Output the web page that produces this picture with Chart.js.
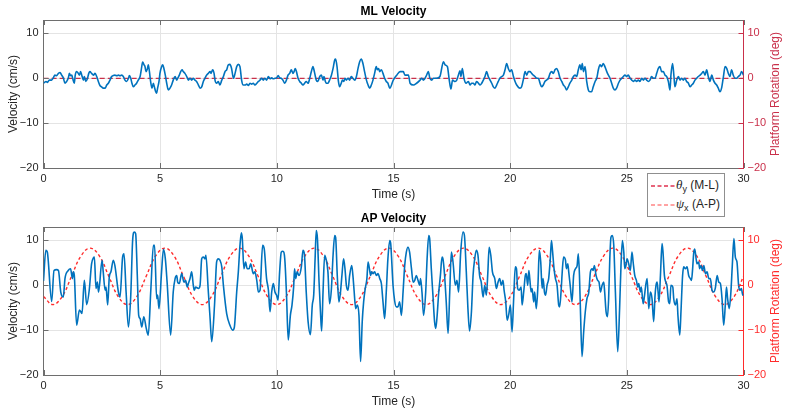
<!DOCTYPE html>
<html>
<head>
<meta charset="utf-8">
<script src="https://cdn.jsdelivr.net/npm/chart.js@4.4.1/dist/chart.umd.min.js"></script>
<style>
  body { margin: 0; background: #fff; }
  #wrap { position: relative; width: 787px; height: 414px; overflow: hidden; }
  .panel { position: absolute; left: 0; width: 787px; height: 207px; }
  #legend {
    position: absolute; left: 647px; top: 173px; width: 78px; height: 44px;
    box-sizing: border-box; border: 1px solid #8f8f8f; background: #fff;
  }
  #legend svg { position: absolute; left: 0; top: 0; }
  #legend .entry {
    position: absolute; left: 28px; font: 12px "Liberation Sans", Arial, sans-serif;
    color: #262626; line-height: 14px; white-space: nowrap;
  }
  #legend .greek { font-family: "Liberation Serif", "DejaVu Serif", serif; font-style: italic; font-size: 13px; }
  #legend sub { font-size: 9px; vertical-align: -3px; line-height: 0; }
</style>
</head>
<body>
<div id="wrap">
  <div class="panel" style="top:0"><canvas id="mlChart"></canvas></div>
  <div class="panel" style="top:207px"><canvas id="apChart"></canvas></div>
  <div id="legend">
    <svg width="30" height="42">
      <line x1="3" y1="12" x2="27" y2="12" stroke="#E0324F" stroke-width="1.3" stroke-dasharray="4 2.5"/>
      <line x1="3" y1="31" x2="27" y2="31" stroke="#FF8585" stroke-width="1.3" stroke-dasharray="4 2.5"/>
    </svg>
    <div class="entry" style="top:4px"><span class="greek">θ</span><sub>y</sub> (M-L)</div>
    <div class="entry" style="top:23px"><span class="greek">ψ</span><sub>x</sub> (A-P)</div>
  </div>
</div>
<script>
// ML velocity trace (cm/s)
const mlTime = [
  0.00,0.11,0.17,0.25,0.35,0.42,0.49,0.56,0.64,0.71,
  0.78,0.85,0.92,0.99,1.06,1.11,1.16,1.21,1.25,1.32,
  1.36,1.42,1.49,1.54,1.59,1.64,1.71,1.75,1.81,1.88,
  1.94,1.99,2.06,2.14,2.21,2.28,2.35,2.42,2.49,2.56,
  2.64,2.71,2.78,2.85,2.92,2.99,3.06,3.14,3.21,3.28,
  3.35,3.42,3.49,3.56,3.64,3.68,3.74,3.79,3.85,3.92,
  3.99,4.06,4.14,4.19,4.25,4.31,4.35,4.39,4.45,4.49,
  4.54,4.59,4.65,4.71,4.75,4.81,4.85,4.89,4.95,4.99,
  5.06,5.11,5.16,5.22,5.28,5.35,5.42,5.49,5.56,5.64,
  5.71,5.75,5.82,5.88,5.94,5.99,6.06,6.14,6.21,6.28,
  6.35,6.42,6.49,6.56,6.64,6.71,6.78,6.85,6.92,6.99,
  7.06,7.14,7.18,7.25,7.31,7.35,7.42,7.49,7.56,7.64,
  7.71,7.78,7.85,7.92,7.99,8.06,8.14,8.21,8.28,8.35,
  8.42,8.49,8.56,8.64,8.71,8.78,8.85,8.92,8.99,9.06,
  9.14,9.21,9.28,9.35,9.42,9.49,9.56,9.64,9.71,9.78,
  9.85,9.92,9.99,10.06,10.12,10.19,10.26,10.34,10.41,10.48,
  10.55,10.62,10.69,10.74,10.79,10.84,10.91,10.98,11.05,11.12,
  11.19,11.26,11.34,11.41,11.48,11.55,11.59,11.64,11.69,11.76,
  11.84,11.91,11.98,12.02,12.08,12.12,12.19,12.26,12.34,12.41,
  12.48,12.52,12.58,12.64,12.69,12.76,12.81,12.87,12.92,12.98,
  13.05,13.12,13.19,13.26,13.34,13.41,13.48,13.55,13.62,13.69,
  13.76,13.84,13.91,13.98,14.05,14.12,14.19,14.26,14.31,14.36,
  14.41,14.48,14.55,14.62,14.69,14.76,14.84,14.99,15.14,15.28,
  15.42,15.49,15.64,15.71,15.85,15.99,16.14,16.21,16.28,16.42,
  16.49,16.56,16.64,16.71,16.85,16.99,17.14,17.21,17.31,17.39,
  17.46,17.53,17.64,17.71,17.78,17.85,17.89,17.95,18.02,18.11,
  18.21,18.28,18.35,18.42,18.49,18.56,18.64,18.71,18.78,18.85,
  18.92,18.99,19.06,19.14,19.21,19.28,19.35,19.42,19.49,19.56,
  19.64,19.71,19.78,19.85,19.92,19.99,20.06,20.14,20.21,20.28,
  20.42,20.49,20.56,20.64,20.71,20.78,20.85,20.92,20.99,21.06,
  21.14,21.21,21.28,21.35,21.42,21.49,21.56,21.64,21.71,21.78,
  21.85,21.92,21.99,22.06,22.14,22.21,22.28,22.35,22.42,22.49,
  22.56,22.64,22.71,22.78,22.85,22.92,22.99,23.04,23.09,23.14,
  23.21,23.28,23.35,23.42,23.49,23.56,23.64,23.71,23.78,23.85,
  23.92,23.99,24.06,24.14,24.21,24.28,24.35,24.42,24.49,24.56,
  24.64,24.71,24.78,24.85,24.92,24.99,25.06,25.14,25.21,25.28,
  25.35,25.42,25.49,25.56,25.64,25.71,25.78,25.85,25.92,25.99,
  26.06,26.14,26.21,26.28,26.35,26.42,26.49,26.56,26.64,26.71,
  26.78,26.85,26.89,26.96,27.02,27.06,27.14,27.21,27.28,27.35,
  27.42,27.49,27.56,27.64,27.71,27.78,27.85,27.92,27.99,28.06,
  28.14,28.21,28.28,28.35,28.42,28.49,28.56,28.64,28.71,28.78,
  28.85,28.92,28.99,29.06,29.14,29.21,29.28,29.35,29.42,29.49,
  29.56,29.64,29.71,29.78,29.85,29.92,30.00
];
const mlVel = [
  -1.1,-0.7,-0.9,-0.4,-0.4,0.1,0.7,0.6,1.1,1.3,
  0.7,0.1,-1.1,-0.7,0.0,1.1,0.6,0.7,0.0,-1.1,
  0.7,1.5,1.1,0.7,1.5,0.7,-0.4,0.4,-0.7,-0.1,
  1.1,1.5,1.1,0.7,1.1,0.4,-0.7,-1.6,-1.9,-2.2,
  -2.2,-1.5,-1.1,-0.4,0.4,0.6,0.7,0.6,0.7,0.6,
  0.7,0.4,-0.4,-0.7,0.0,0.6,0.0,-1.1,-1.9,-1.5,
  -1.1,-0.4,0.4,1.9,3.6,3.0,2.6,1.5,2.1,3.0,
  1.5,-0.7,-2.2,-1.1,-1.9,-3.0,-3.3,-2.2,-0.7,1.1,
  2.6,3.0,2.2,0.7,-1.1,-2.6,-2.2,-1.5,-0.4,0.4,
  -0.4,0.0,0.7,1.5,1.9,1.5,1.1,0.4,-0.4,0.0,
  -0.4,0.0,-0.4,-0.7,-1.5,-2.2,-1.9,-0.7,0.0,0.7,
  1.1,1.5,1.1,1.9,1.1,-0.4,-1.1,-0.7,-1.5,-0.4,
  0.4,1.5,1.9,3.0,3.1,2.2,0.0,1.1,2.6,3.1,
  2.6,-0.4,-1.5,-1.5,-1.3,-1.6,-1.1,-1.3,-1.1,-1.5,
  -1.1,-0.7,-0.4,0.0,-0.4,0.0,-0.4,0.4,-0.1,0.1,
  -0.1,0.0,0.1,0.6,0.1,0.0,-0.4,-1.1,-0.4,0.7,
  1.1,1.9,1.1,1.5,2.2,1.5,0.0,-0.7,-1.1,-1.5,
  -1.1,-0.7,-1.1,0.0,1.5,2.6,1.9,0.7,-0.4,-0.7,
  0.4,0.7,-0.4,0.4,-0.7,-1.1,-1.1,-0.4,0.7,2.2,
  4.1,4.3,2.6,-0.7,-1.9,-1.1,-0.4,-0.7,0.0,-0.4,
  0.0,-0.4,0.4,0.0,-0.4,0.4,2.2,3.7,4.3,3.3,
  1.5,-0.4,-1.5,-2.2,-1.5,-0.4,1.1,2.6,1.9,2.2,
  1.5,1.9,1.1,0.0,-0.7,-1.1,-2.2,-0.4,0.7,1.5,
  1.5,0.7,0.7,-1.1,-1.5,-1.1,-0.4,0.0,-0.4,0.7,
  1.5,0.0,-0.4,0.0,0.0,0.4,3.7,3.0,2.6,-0.4,
  -2.4,-0.4,-0.7,-0.4,0.7,1.7,0.4,2.2,0.0,-1.1,
  -0.7,-1.5,-1.1,-1.1,-1.5,-0.7,-1.1,-1.5,-1.1,-0.4,
  0.4,1.5,0.4,-0.4,-1.1,-1.9,-2.2,-1.5,-0.7,0.0,
  0.4,0.7,1.9,3.3,2.2,1.5,1.9,0.4,-0.7,-1.5,
  -2.2,-1.9,-0.4,1.5,0.7,1.5,1.5,1.1,0.7,0.4,
  0.0,0.0,-1.1,-1.9,-1.5,-0.7,-0.4,0.0,1.1,1.5,
  1.1,1.9,2.2,1.5,0.0,-0.7,-1.5,-1.9,-2.6,-1.9,
  -1.1,-0.4,0.4,0.7,0.4,1.9,3.0,1.9,3.3,1.5,
  2.6,-0.7,-2.6,-3.0,-3.0,-1.9,-0.7,0.0,1.9,3.0,
  2.6,3.3,2.6,1.5,0.7,0.0,-1.1,-2.2,-2.6,-2.2,
  -1.1,-0.4,0.0,0.4,0.7,0.4,0.7,0.0,-0.4,-0.7,
  -0.4,-0.7,-0.4,-0.7,0.0,-0.4,0.0,-0.4,-0.7,-0.4,
  0.4,0.0,0.0,1.1,2.2,2.6,1.5,1.5,0.7,0.4,
  -0.7,-2.6,0.7,3.3,0.4,-1.9,-0.4,0.4,-0.4,0.0,
  -0.4,0.0,-0.7,-1.1,-1.9,-1.5,-1.1,-0.4,0.0,0.4,
  0.7,1.1,1.5,0.7,1.9,0.4,-0.7,0.7,-0.4,-1.1,
  -1.5,-2.2,-3.0,-2.2,0.4,2.6,2.2,1.1,0.4,1.9,
  0.7,0.0,0.0,0.4,0.7,1.5,0.7
];

// AP velocity trace (cm/s)
const apTime = [
  0.00,0.10,0.16,0.35,0.45,0.56,0.64,0.74,0.85,0.92,
  1.06,1.16,1.24,1.28,1.32,1.42,1.54,1.60,1.65,1.75,
  1.85,1.96,2.06,2.14,2.18,2.25,2.31,2.36,2.51,2.56,
  2.64,2.68,2.75,2.82,2.89,2.99,3.06,3.21,3.28,3.39,
  3.45,3.54,3.64,3.74,3.82,3.89,3.95,4.02,4.08,4.14,
  4.21,4.30,4.40,4.49,4.60,4.71,4.76,4.85,4.89,4.95,
  5.06,5.14,5.22,5.30,5.45,5.56,5.64,5.71,5.75,5.82,
  5.92,6.02,6.09,6.16,6.21,6.28,6.35,6.42,6.46,6.52,
  6.64,6.71,6.78,6.85,6.92,6.96,7.06,7.14,7.21,7.33,
  7.42,7.49,7.56,7.64,7.71,7.85,7.99,8.11,8.18,8.28,
  8.35,8.42,8.48,8.52,8.59,8.66,8.73,8.81,8.88,8.92,
  8.99,9.06,9.14,9.21,9.28,9.39,9.46,9.56,9.64,9.71,
  9.78,9.85,9.92,9.99,10.05,10.12,10.19,10.26,10.34,10.41,
  10.49,10.58,10.65,10.72,10.76,10.81,10.87,10.95,11.05,11.12,
  11.18,11.26,11.34,11.44,11.52,11.58,11.64,11.69,11.74,11.81,
  11.87,11.92,11.98,12.05,12.12,12.19,12.26,12.34,12.41,12.48,
  12.52,12.59,12.66,12.72,12.79,12.86,12.92,12.98,13.05,13.12,
  13.21,13.26,13.31,13.38,13.45,13.52,13.59,13.66,13.72,13.79,
  13.86,13.91,13.98,14.02,14.06,14.12,14.19,14.27,14.34,14.41,
  14.48,14.55,14.62,14.69,14.76,14.84,14.88,14.98,15.05,15.12,
  15.19,15.26,15.34,15.41,15.48,15.55,15.62,15.69,15.77,15.84,
  15.91,15.98,16.05,16.12,16.16,16.22,16.29,16.38,16.44,16.51,
  16.55,16.62,16.69,16.76,16.81,16.86,16.94,17.01,17.08,17.12,
  17.19,17.26,17.34,17.41,17.48,17.55,17.65,17.72,17.79,17.88,
  17.98,18.04,18.12,18.19,18.26,18.34,18.41,18.48,18.55,18.62,
  18.69,18.76,18.84,18.91,18.98,19.04,19.10,19.17,19.24,19.34,
  19.41,19.48,19.55,19.62,19.69,19.74,19.81,19.87,19.94,20.01,
  20.08,20.15,20.22,20.27,20.32,20.39,20.47,20.51,20.58,20.65,
  20.69,20.75,20.80,20.84,20.90,20.94,21.01,21.05,21.12,21.19,
  21.25,21.31,21.37,21.41,21.47,21.52,21.58,21.65,21.72,21.77,
  21.82,21.88,21.94,22.01,22.08,22.12,22.18,22.24,22.29,22.37,
  22.41,22.47,22.51,22.58,22.65,22.72,22.80,22.87,22.92,22.97,
  23.01,23.08,23.15,23.22,23.29,23.37,23.44,23.51,23.55,23.61,
  23.68,23.75,23.81,23.87,23.94,24.01,24.05,24.11,24.17,24.22,
  24.27,24.32,24.38,24.44,24.51,24.61,24.69,24.75,24.81,24.87,
  24.91,24.96,25.01,25.08,25.15,25.22,25.27,25.34,25.41,25.47,
  25.51,25.58,25.62,25.70,25.75,25.81,25.87,25.94,26.01,26.08,
  26.15,26.21,26.25,26.30,26.34,26.38,26.44,26.51,26.55,26.61,
  26.67,26.72,26.79,26.84,26.89,26.97,27.01,27.08,27.15,27.19,
  27.27,27.32,27.39,27.44,27.51,27.58,27.65,27.72,27.77,27.81,
  27.87,27.91,27.97,28.01,28.08,28.12,28.18,28.24,28.30,28.37,
  28.44,28.51,28.58,28.65,28.72,28.79,28.87,28.94,29.01,29.08,
  29.15,29.22,29.27,29.32,29.39,29.46,29.52,29.59,29.65,29.72,
  29.79,29.85,29.91,29.97,30.00
];
const apVel = [
  1.0,7.8,7.5,-3.6,3.3,3.5,3.3,-1.5,-2.6,1.5,
  3.3,3.7,1.5,3.0,2.2,-8.9,-5.5,-5.9,-6.3,1.1,
  -4.3,-1.1,4.8,6.1,6.3,-0.7,0.7,-1.5,5.6,3.0,
  -1.1,-0.4,-4.4,1.9,3.0,5.6,4.4,-1.5,-2.6,6.3,
  7.0,-1.5,-9.3,-2.2,10.0,11.9,11.5,2.2,-6.7,-7.4,
  -9.3,-7.0,-9.5,-11.1,-1.0,8.9,8.9,-3.0,-2.2,-5.2,
  3.0,8.0,6.0,0.5,-11.1,-1.5,1.5,2.2,0.7,0.4,
  2.6,0.7,1.1,-0.4,0.4,1.5,3.0,0.0,-1.1,-0.4,
  -0.7,0.0,5.9,6.3,5.9,6.7,-1.1,-7.4,-12.6,-4.4,
  5.2,5.9,5.6,4.1,0.0,-6.3,-8.9,-10.0,-9.3,-1.5,
  3.0,8.9,11.7,10.4,3.7,5.2,3.7,3.7,4.8,4.1,
  2.6,3.0,1.1,-1.5,-1.1,8.9,8.1,1.5,-1.1,-5.9,
  -1.5,0.4,-1.5,-2.2,-3.3,3.0,7.4,7.6,5.9,-1.5,
  -12.2,-6.7,-4.4,-0.4,3.7,1.5,3.0,2.2,4.1,7.8,
  7.0,-1.5,-8.1,-11.0,-4.4,-2.2,5.9,12.2,10.4,0.7,
  -5.9,-10.2,-1.5,6.7,5.6,3.0,-4.1,-0.7,6.7,11.1,
  10.7,2.2,-3.7,-1.9,2.2,5.9,3.7,0.0,-1.1,2.2,
  4.4,2.2,-1.1,-5.2,-4.4,-6.7,-17.0,-8.1,-3.7,-0.7,
  1.5,5.2,3.3,2.2,3.0,2.6,3.0,2.2,2.6,1.5,
  0.4,-3.7,-7.4,-1.5,5.9,10.0,9.3,0.0,-3.5,-4.8,
  -4.8,-3.7,-6.7,-1.5,4.4,7.4,8.5,7.4,3.7,0.7,
  1.1,2.2,1.1,0.0,1.5,-1.5,-6.7,-1.5,5.9,11.1,
  10.4,3.7,-2.2,-8.1,-9.6,-7.4,-1.5,2.2,6.3,5.9,
  2.2,-3.7,-10.7,-1.5,7.4,5.2,0.0,1.1,-1.5,7.4,
  11.9,11.1,3.0,-5.2,-10.2,-5.9,2.2,5.9,7.8,6.7,
  2.2,0.7,-2.6,0.0,-2.2,2.5,8.5,6.7,3.0,1.5,
  -0.7,0.7,1.5,0.0,1.1,-1.1,-3.7,-7.8,-6.5,-4.4,
  -10.4,-3.0,4.1,3.7,-0.7,-1.1,-0.4,-4.4,-1.5,2.2,
  2.6,0.0,3.3,1.5,-1.5,-0.7,-3.7,-1.5,-5.2,0.0,
  7.8,5.2,-0.7,1.5,-1.5,-2.2,0.0,1.5,5.9,10.0,
  7.4,3.7,1.5,0.0,-4.4,-4.8,-1.5,3.7,6.3,5.6,
  3.7,4.8,3.0,-0.4,-3.7,2.2,3.7,4.4,7.0,2.2,
  -5.2,-15.9,-10.4,-5.9,-3.0,-1.5,3.0,3.7,3.3,4.4,
  2.2,1.1,0.7,-1.5,0.0,0.7,-1.5,-5.9,-7.0,-3.0,
  5.9,10.7,11.1,8.9,-1.5,-14.8,-5.2,4.4,10.0,7.4,
  3.7,4.4,5.9,4.8,3.3,7.4,5.2,2.2,1.1,-0.4,
  0.4,-1.5,-0.4,-4.1,-2.6,0.0,1.5,-5.2,-1.5,-3.0,
  -8.1,-2.2,0.0,0.7,-1.5,-3.7,2.2,9.3,7.4,2.2,
  0.7,0.0,-3.7,-4.1,0.0,-0.4,-3.0,-4.4,-3.0,-6.7,
  -11.1,-5.9,2.2,4.1,3.7,4.1,2.2,1.5,1.1,3.0,
  7.4,8.1,5.9,4.8,5.2,3.7,4.4,3.3,4.4,2.6,
  3.0,1.5,1.5,-1.1,-1.5,-0.7,2.2,0.7,0.4,-3.0,
  -8.9,-4.4,-0.4,-3.0,-5.2,-1.5,4.4,10.4,6.3,5.2,
  0.0,-1.1,-0.7,-2.2,-1.9
];

// platform rotation (deg): M-L stays at zero, A-P swings between about -4.3 and 8.3
const rotMlTime = [0, 30];
const rotMlDeg = [0, 0];
const rotApTime = [
  0.0,0.4,0.8,1.2,1.6,2.0,2.4,2.8,3.2,3.6,
  4.0,4.4,4.8,5.2,5.6,6.0,6.4,6.8,7.2,7.6,
  8.0,8.4,8.8,9.2,9.6,10.0,10.4,10.8,11.2,11.6,
  12.0,12.4,12.8,13.2,13.6,14.0,14.4,14.8,15.2,15.6,
  16.0,16.4,16.8,17.2,17.6,18.0,18.4,18.8,19.2,19.6,
  20.0,20.4,20.8,21.2,21.6,22.0,22.4,22.8,23.2,23.6,
  24.0,24.4,24.8,25.2,25.6,26.0,26.4,26.8,27.2,27.6,
  28.0,28.4,28.8,29.2,29.6,30.0
];
const rotApDeg = [
  -2.5,-4.3,-2.5,2.0,6.5,8.3,6.5,2.0,-2.5,-4.3,
  -2.5,2.0,6.5,8.3,6.5,2.0,-2.5,-4.3,-2.5,2.0,
  6.5,8.3,6.5,2.0,-2.5,-4.3,-2.5,2.0,6.5,8.3,
  6.5,2.0,-2.5,-4.3,-2.5,2.0,6.5,8.3,6.5,2.0,
  -2.5,-4.3,-2.5,2.0,6.5,8.3,6.5,2.0,-2.5,-4.3,
  -2.5,2.0,6.5,8.3,6.5,2.0,-2.5,-4.3,-2.5,2.0,
  6.5,8.3,6.5,2.0,-2.5,-4.3,-2.5,2.0,6.5,8.3,
  6.5,2.0,-2.5,-4.3,-2.5,2.0
];

// axis settings
const timeTicks = [0, 5, 10, 15, 20, 25, 30];
const yMin = -20;
const yMax = 13;

const BLUE = "#0072BD";
const ML_RED = "#C9304A";
const AP_RED = "#FF2B2B";
const AXIS_GRAY = "#6e6e6e";
const TEXT_GRAY = "#262626";
const GRID = "#e4e4e4";

Chart.defaults.font.family = '"Liberation Sans", Arial, Helvetica, sans-serif';
Chart.defaults.color = TEXT_GRAY;

const toPoints = (xs, ys) => xs.map((x, i) => ({ x: x, y: ys[i] }));
const minusLabel = (v) => (v < 0 ? "\u2212" + Math.abs(v) : String(v));

// Top frame line, inward tick marks and the right title (reads bottom-to-top)
const axesFrame = {
  id: "axesFrame",
  afterDraw(chart, args, opts) {
    const { ctx, chartArea: a, scales } = chart;
    ctx.save();
    ctx.lineWidth = 1;
    ctx.strokeStyle = AXIS_GRAY;
    ctx.beginPath();
    ctx.moveTo(a.left, Math.round(a.top) + 0.5);
    ctx.lineTo(a.right, Math.round(a.top) + 0.5);
    scales.x.ticks.forEach((t) => {
      const px = Math.round(scales.x.getPixelForValue(t.value)) + 0.5;
      ctx.moveTo(px, a.bottom);
      ctx.lineTo(px, a.bottom - 5);
      ctx.moveTo(px, a.top);
      ctx.lineTo(px, a.top + 5);
    });
    scales.y.ticks.forEach((t) => {
      const py = Math.round(scales.y.getPixelForValue(t.value)) + 0.5;
      ctx.moveTo(a.left, py);
      ctx.lineTo(a.left + 5, py);
    });
    ctx.stroke();

    ctx.strokeStyle = opts.color;
    ctx.beginPath();
    scales.y2.ticks.forEach((t) => {
      const py = Math.round(scales.y2.getPixelForValue(t.value)) + 0.5;
      ctx.moveTo(a.right, py);
      ctx.lineTo(a.right - 5, py);
    });
    ctx.stroke();

    ctx.fillStyle = opts.color;
    ctx.font = '12px "Liberation Sans", Arial, sans-serif';
    ctx.textAlign = "center";
    ctx.textBaseline = "middle";
    ctx.translate(776, (a.top + a.bottom) / 2);
    ctx.rotate(-Math.PI / 2);
    ctx.fillText(opts.title, 0, 0);
    ctx.restore();
  },
};

function velocityChart(canvasId, title, velT, velV, rotT, rotV, rotColor, rotDash, rotWidth) {
  return new Chart(document.getElementById(canvasId), {
    type: "line",
    data: {
      datasets: [
        {
          data: toPoints(velT, velV),
          borderColor: BLUE,
          borderWidth: 1.6,
          pointRadius: 0,
          cubicInterpolationMode: "monotone",
          yAxisID: "y",
        },
        {
          data: toPoints(rotT, rotV),
          borderColor: rotColor,
          borderWidth: rotWidth,
          borderDash: rotDash,
          pointRadius: 0,
          tension: 0.4,
          yAxisID: "y2",
        },
      ],
    },
    options: {
      responsive: true,
      maintainAspectRatio: false,
      animation: false,
      layout: { padding: 0 },
      plugins: {
        legend: { display: false },
        tooltip: { enabled: false },
        title: {
          display: true,
          text: title,
          color: "#000",
          font: { size: 12, weight: "bold" },
          padding: { top: 4, bottom: 1.6 },
        },
        axesFrame: { color: rotColor, title: "Platform Rotation (deg)" },
      },
      scales: {
        x: {
          type: "linear",
          min: 0,
          max: 30,
          afterBuildTicks: (s) => { s.ticks = timeTicks.map((v) => ({ value: v })); },
          ticks: { padding: 4, maxRotation: 0, color: TEXT_GRAY, font: { size: 11 } },
          grid: { color: GRID, drawTicks: false },
          border: { color: AXIS_GRAY },
          title: {
            display: true,
            text: "Time (s)",
            color: TEXT_GRAY,
            font: { size: 12 },
            padding: { top: 0, bottom: 4.8 },
          },
          afterFit: (s) => { s.height = 39; },
        },
        y: {
          position: "left",
          min: yMin,
          max: yMax,
          ticks: {
            stepSize: 10,
            includeBounds: false,
            padding: 5,
            color: TEXT_GRAY,
            font: { size: 11 },
            callback: minusLabel,
          },
          grid: { color: GRID, drawTicks: false },
          border: { color: AXIS_GRAY },
          title: {
            display: true,
            text: "Velocity (cm/s)",
            color: TEXT_GRAY,
            font: { size: 12 },
            padding: { top: 6, bottom: 0 },
          },
          afterFit: (s) => { s.width = 43.5; },
        },
        y2: {
          position: "right",
          min: yMin,
          max: yMax,
          ticks: {
            stepSize: 10,
            includeBounds: false,
            padding: 4,
            color: rotColor,
            font: { size: 11 },
            callback: minusLabel,
          },
          grid: { display: false, drawTicks: false },
          border: { color: rotColor },
          afterFit: (s) => { s.width = 43.5; },
        },
      },
    },
    plugins: [axesFrame],
  });
}

velocityChart("mlChart", "ML Velocity", mlTime, mlVel, rotMlTime, rotMlDeg, ML_RED, [5, 3], 1.2);
velocityChart("apChart", "AP Velocity", apTime, apVel, rotApTime, rotApDeg, AP_RED, [3, 2.5], 1.4);
</script>
</body>
</html>
